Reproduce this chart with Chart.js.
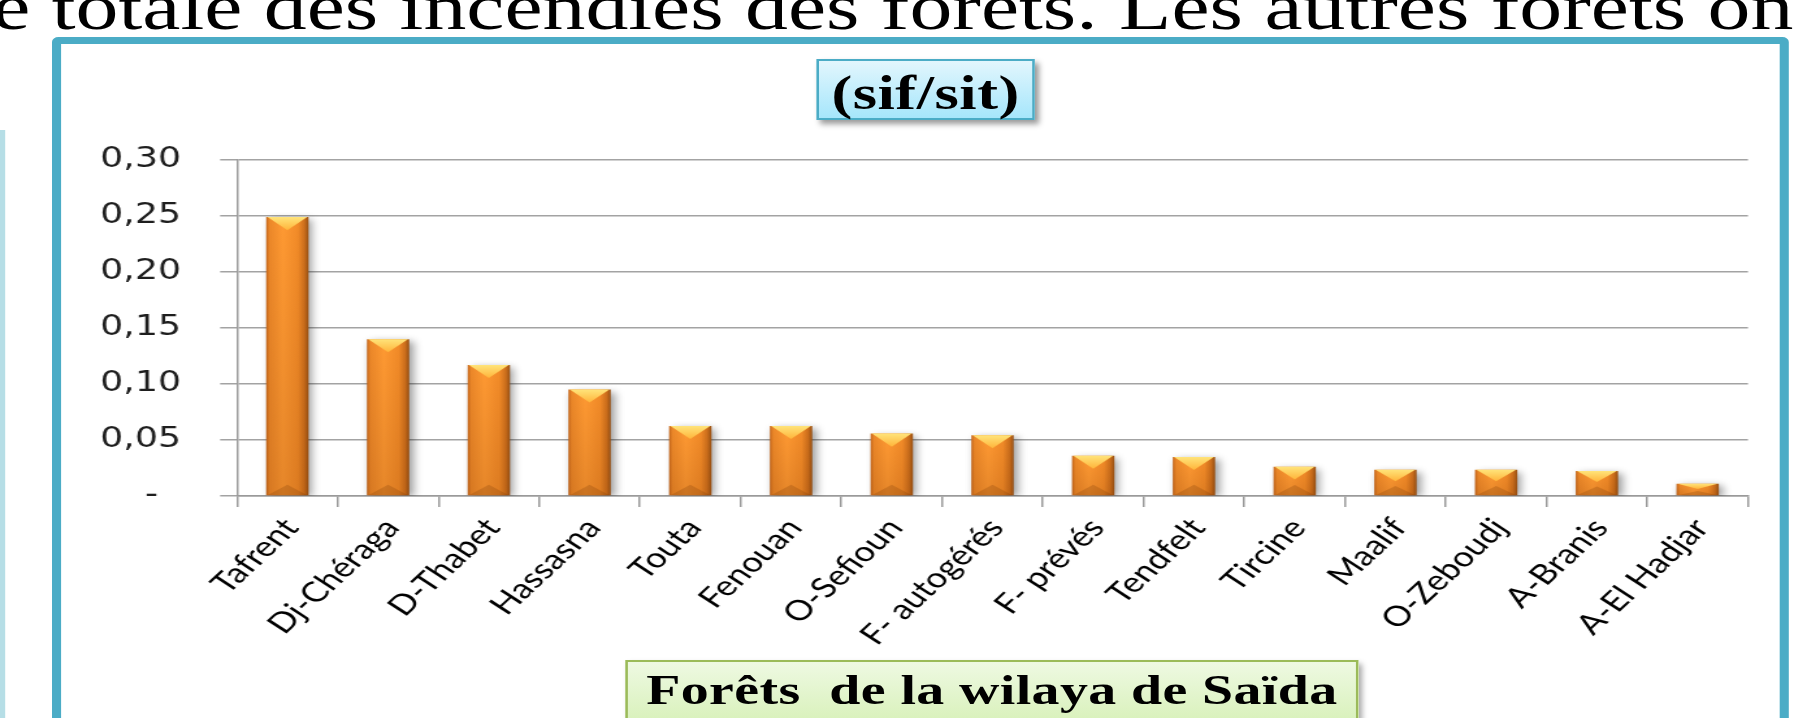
<!DOCTYPE html>
<html>
<head>
<meta charset="utf-8">
<script src="https://cdn.jsdelivr.net/npm/chart.js@4"></script>
<style>
html, body { margin:0; padding:0; background:#fff; overflow:hidden; }
#pagina { position:absolute; left:0; top:0; width:1390px; height:718px; transform:scaleX(1.3); transform-origin:0 0; overflow:hidden; }
#texto { position:absolute; left:-6px; top:-26px; white-space:nowrap; font:66px "Liberation Serif"; line-height:66px; color:#000; }
#barra { position:absolute; left:0; top:130px; width:4px; height:600px; background:#B6DEE6; }
#quadro { position:absolute; left:40px; top:37px; width:1336px; height:720px; box-sizing:border-box; border:7px solid #4BACC6; border-left-width:7.5px; border-right-width:7.5px; border-radius:5px; }
#grafico { position:absolute; left:0; top:0; }
#titulo { position:absolute; left:628px; top:59px; width:168px; height:61px; box-sizing:border-box; border:2px solid #4BACC6; background:linear-gradient(#E2F6FD, #A6E6FB); box-shadow:3px 4px 5px rgba(0,0,0,0.4); font:bold 48px "Liberation Serif"; letter-spacing:0.4px; text-align:center; line-height:57px; padding-top:3px; color:#000; }
#eixo { position:absolute; left:481px; top:660px; width:564px; height:80px; box-sizing:border-box; border:2.5px solid #9BBB59; background:linear-gradient(#EEF9E2, #D3EFB0); box-shadow:3px 4px 5px rgba(0,0,0,0.35); font:bold 43px "Liberation Serif"; letter-spacing:0.3px; white-space:pre; text-align:center; line-height:40px; padding-top:8px; color:#000; }
</style>
</head>
<body>
<div id="pagina">
  <div id="texto">e totale des incendies des forêts. Les autres forêts on</div>
  <div id="barra"></div>
  <div id="quadro"></div>
  <canvas id="grafico" width="1390" height="718"></canvas>
  <div id="titulo">(sif/sit)</div>
  <div id="eixo">Forêts  de la wilaya de Saïda</div>
</div>
<script>
var categorias = ['Tafrent','Dj-Chéraga','D-Thabet','Hassasna','Touta','Fenouan','O-Sefioun','F- autogérés','F- prévés','Tendfelt','Tircine','Maalif','O-Zeboudj','A-Branis','A-El Hadjar'];
var valores = [0.249, 0.140, 0.117, 0.095, 0.0625, 0.0625, 0.0557, 0.0542, 0.036, 0.0348, 0.0262, 0.0235, 0.0235, 0.0223, 0.011];
var marcasY = [0, 0.05, 0.10, 0.15, 0.20, 0.25, 0.30];
var rotulosY = ['-  ', '0,05', '0,10', '0,15', '0,20', '0,25', '0,30'];

var larguraBarra = 0.42;

// degradê horizontal de cada barra (laranja com bordas escuras)
function corBarra(c) {
    var grafico = c.chart;
    var x = grafico.scales && grafico.scales.x;
    if (!grafico.chartArea || !x) return '#F79646';
    var centro = x.getPixelForValue(c.dataIndex);
    var meia = x.width / categorias.length * larguraBarra / 2;
    var g = grafico.ctx.createLinearGradient(centro - meia, 0, centro + meia, 0);
    g.addColorStop(0, '#C4661B');
    g.addColorStop(0.08, '#EC8829');
    g.addColorStop(0.4, '#FF9A33');
    g.addColorStop(0.75, '#F28B28');
    g.addColorStop(0.9, '#CD6F1C');
    g.addColorStop(1, '#985114');
    return g;
}

var relevo = {
    id: 'relevo',
    beforeDatasetsDraw: function(grafico) {
        var c = grafico.ctx;
        c.save();
        c.shadowColor = 'rgba(0,0,0,0.4)';
        c.shadowBlur = 7;
        c.shadowOffsetX = 3;
        c.shadowOffsetY = 2;
    },
    afterDatasetsDraw: function(grafico) {
        var c = grafico.ctx;
        c.restore();
        grafico.getDatasetMeta(0).data.forEach(function(barra) {
            var p = barra.getProps(['x', 'y', 'base', 'width']);
            var e = p.x - p.width / 2, d = p.x + p.width / 2, t = p.y, b = p.base;
            var h = Math.min(p.width * 0.4, (b - t) * 0.45);
            c.save();
            // escurece embaixo
            var v = c.createLinearGradient(0, t, 0, b);
            v.addColorStop(0, 'rgba(120,50,0,0)');
            v.addColorStop(1, 'rgba(120,50,0,0.18)');
            c.fillStyle = v;
            c.fillRect(e, t, p.width, b - t);
            // chanfro de baixo
            c.beginPath();
            c.moveTo(e + 1, b); c.lineTo(d - 1, b); c.lineTo(p.x, b - h * 0.8); c.closePath();
            c.fillStyle = 'rgba(110,50,5,0.22)';
            c.fill();
            // chanfro de cima
            c.beginPath();
            c.moveTo(e + 1, t); c.lineTo(d - 1, t); c.lineTo(p.x, t + h); c.closePath();
            var g = c.createLinearGradient(0, t, 0, t + h);
            g.addColorStop(0, '#FFE47A');
            g.addColorStop(1, '#FFB43A');
            c.fillStyle = g;
            c.fill();
            c.restore();
        });
    }
};

window.onload = function(){
    var contexto = document.getElementById('grafico').getContext('2d');
    var grafico = new Chart(contexto, {
        type: 'bar',
        data: {
            labels: categorias,
            datasets: [{
                label: '(sif/sit)',
                data: valores,
                backgroundColor: corBarra,
                borderWidth: 0,
                barPercentage: larguraBarra,
                categoryPercentage: 1
            }]
        },
        options: {
            responsive: false,
            devicePixelRatio: 1,
            animation: false,
            layout: { padding: { top: 160, left: 0, right: 45.4, bottom: 0 } },
            plugins: { legend: { display: false }, tooltip: { enabled: false } },
            scales: {
                x: {
                    afterFit: function(eixo){ eixo.height = 222; },
                    border: { color: '#9a9a9a', width: 1.5 },
                    grid: { offset: true, drawOnChartArea: false, tickLength: 11, color: '#9a9a9a', lineWidth: 1.5 },
                    ticks: { minRotation: 50, maxRotation: 50, autoSkip: false, padding: 5, labelOffset: 3, color: '#000',
                             font: { family: 'Lato', size: 28 } }
                },
                y: {
                    min: 0,
                    max: 0.3,
                    afterBuildTicks: function(eixo){ eixo.ticks = marcasY.map(function(v){ return { value: v }; }); },
                    afterFit: function(eixo){ eixo.width = 182.3; },
                    border: { color: '#9a9a9a', width: 1.5 },
                    grid: { color: '#a3a3a3', lineWidth: 1.5, tickLength: 13 },
                    ticks: { padding: 30, color: '#1e1e1e', font: { family: 'DejaVu Sans', size: 28 },
                             callback: function(v, i){ return rotulosY[i]; } }
                }
            }
        },
        plugins: [relevo]
    });
};
</script>
</body>
</html>
